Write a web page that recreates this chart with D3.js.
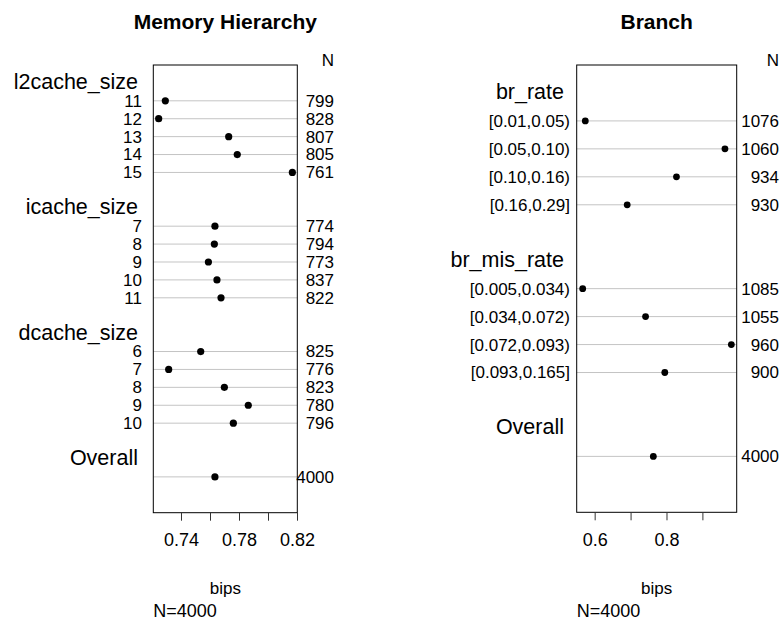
<!DOCTYPE html>
<html>
<head>
<meta charset="utf-8">
<script src="https://cdn.jsdelivr.net/npm/d3@7"></script>
<style>
  html, body { margin: 0; padding: 0; background: #fff; }
  svg { display: block; font-family: "Liberation Sans", Arial, Helvetica, sans-serif; }
</style>
</head>
<body>
<svg id="chart" width="782" height="624"></svg>
<script>
// ---------- Data ----------
// Panel 1: Memory Hierarchy
const l2Levels = ["11", "12", "13", "14", "15"];
const l2Bips   = [0.7292, 0.7246, 0.7729, 0.7788, 0.8168];
const l2N      = [799, 828, 807, 805, 761];

const icLevels = ["7", "8", "9", "10", "11"];
const icBips   = [0.7634, 0.7630, 0.7589, 0.7648, 0.7676];
const icN      = [774, 794, 773, 837, 822];

const dcLevels = ["6", "7", "8", "9", "10"];
const dcBips   = [0.7536, 0.7315, 0.7699, 0.7864, 0.7761];
const dcN      = [825, 776, 823, 780, 796];

// Panel 2: Branch
const brLevels  = ["[0.01,0.05)", "[0.05,0.10)", "[0.10,0.16)", "[0.16,0.29]"];
const brBips    = [0.5739, 0.9628, 0.8278, 0.6906];
const brN       = [1076, 1060, 934, 930];

const bmLevels  = ["[0.005,0.034)", "[0.034,0.072)", "[0.072,0.093)", "[0.093,0.165]"];
const bmBips    = [0.5667, 0.7417, 0.9806, 0.7953];
const bmN       = [1085, 1055, 960, 900];

const overallBips = 0.7634;
const overallN    = 4000;

const memTicks  = [0.74, 0.76, 0.78, 0.80, 0.82];
const memLabels = ["0.74", "", "0.78", "", "0.82"];
const brTicks   = [0.6, 0.7, 0.8, 0.9];
const brLabels  = ["0.6", "", "0.8", ""];

// ---------- Build panel specs ----------
function buildRows(groups) {
  const rows = [];
  groups.forEach((g, gi) => {
    if (gi > 0) rows.push({ type: "blank" });
    rows.push({ type: "header", label: g.name });
    g.levels.forEach((lv, i) => rows.push({ type: "row", label: lv, v: g.vals[i], n: g.ns[i] }));
  });
  rows.push({ type: "blank" });
  rows.push({ type: "header", label: "Overall" });
  rows.push({ type: "row", label: "", v: overallBips, n: overallN });
  return rows;
}

const panels = [
  {
    title: "Memory Hierarchy",
    box: { x0: 153.3, x1: 297.3, y0: 65, y1: 512.7 },
    domain: [0.7209, 0.8202],
    ticks: memTicks, tickLabels: memLabels,
    labelX: 142, headerX: 138, nX: 334, r: 3.6,
    rows: buildRows([
      { name: "l2cache_size", levels: l2Levels, vals: l2Bips, ns: l2N },
      { name: "icache_size",  levels: icLevels, vals: icBips, ns: icN },
      { name: "dcache_size",  levels: dcLevels, vals: dcBips, ns: dcN }
    ])
  },
  {
    title: "Branch",
    box: { x0: 576.7, x1: 736.7, y0: 65, y1: 512.3 },
    domain: [0.55, 0.9955],
    ticks: brTicks, tickLabels: brLabels,
    labelX: 570, headerX: 564, nX: 779, r: 3.4,
    rows: buildRows([
      { name: "br_rate",     levels: brLevels, vals: brBips, ns: brN },
      { name: "br_mis_rate", levels: bmLevels, vals: bmBips, ns: bmN }
    ])
  }
];

// ---------- Draw ----------
const svg = d3.select("#chart");
const FS = 17, HFS = 21.5;

panels.forEach(p => {
  const g = svg.append("g");
  const b = p.box;
  const nLast = p.rows.length - 1;
  const x = d3.scaleLinear().domain(p.domain).range([b.x0, b.x1]);
  const y = d3.scaleLinear().domain([-1, nLast + 2]).range([b.y0, b.y1]);
  const cx = (b.x0 + b.x1) / 2;

  // title
  g.append("text").attr("x", cx).attr("y", 22).attr("dy", "0.35em")
    .attr("text-anchor", "middle").attr("font-weight", "bold").attr("font-size", 21)
    .attr("fill", "#000").text(p.title);

  // N header
  g.append("text").attr("x", p.nX).attr("y", 60).attr("dy", "0.35em")
    .attr("text-anchor", "end").attr("font-size", FS).text("N");

  const rowsIdx = p.rows.map((r, i) => Object.assign({ i }, r));
  const dataRows = rowsIdx.filter(r => r.type === "row");
  const headers = rowsIdx.filter(r => r.type === "header");

  // grid lines
  g.selectAll("line.grid").data(dataRows).enter().append("line")
    .attr("class", "grid")
    .attr("x1", b.x0).attr("x2", b.x1)
    .attr("y1", d => y(d.i)).attr("y2", d => y(d.i))
    .attr("stroke", "#c4c4c4").attr("stroke-width", 1);

  // box
  g.append("rect").attr("x", b.x0).attr("y", b.y0)
    .attr("width", b.x1 - b.x0).attr("height", b.y1 - b.y0)
    .attr("fill", "none").attr("stroke", "#000").attr("stroke-width", 1);

  // points
  g.selectAll("circle").data(dataRows).enter().append("circle")
    .attr("cx", d => x(d.v)).attr("cy", d => y(d.i)).attr("r", p.r)
    .attr("fill", "#000");

  // row labels
  g.selectAll("text.lab").data(dataRows.filter(d => d.label)).enter().append("text")
    .attr("class", "lab")
    .attr("x", p.labelX).attr("y", d => y(d.i)).attr("dy", "0.35em")
    .attr("text-anchor", "end").attr("font-size", FS).text(d => d.label);

  // headers
  g.selectAll("text.hdr").data(headers).enter().append("text")
    .attr("class", "hdr")
    .attr("x", p.headerX).attr("y", d => y(d.i) - 1.5).attr("dy", "0.35em")
    .attr("text-anchor", "end").attr("font-size", HFS).text(d => d.label);

  // N values
  g.selectAll("text.nval").data(dataRows).enter().append("text")
    .attr("class", "nval")
    .attr("x", p.nX).attr("y", d => y(d.i)).attr("dy", "0.35em")
    .attr("text-anchor", "end").attr("font-size", FS).text(d => d.n);

  // x axis
  const axis = d3.axisBottom(x).tickValues(p.ticks).tickSize(8).tickPadding(12.5)
    .tickFormat((d, i) => p.tickLabels[i]);
  const ag = g.append("g").attr("transform", `translate(0,${b.y1})`).call(axis);
  ag.select(".domain").remove();
  ag.selectAll(".tick line").attr("stroke", "#333");
  ag.selectAll(".tick text").attr("font-size", 18).attr("fill", "#000")
    .attr("font-family", "\"Liberation Sans\", Arial, Helvetica, sans-serif");

  // axis title & N
  g.append("text").attr("x", cx).attr("y", 588).attr("dy", "0.35em")
    .attr("text-anchor", "middle").attr("font-size", FS).text("bips");
  g.append("text").attr("x", b.x0).attr("y", 611).attr("dy", "0.35em")
    .attr("text-anchor", "start").attr("font-size", 18).text("N=" + overallN);
});
</script>
</body>
</html>
